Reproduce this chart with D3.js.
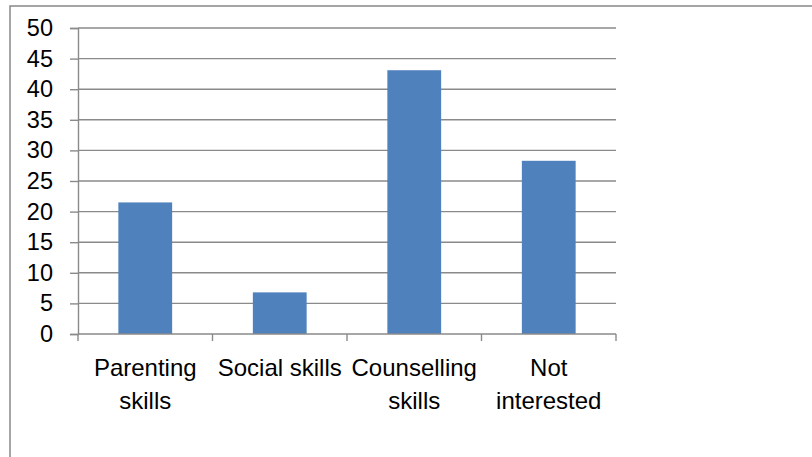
<!DOCTYPE html>
<html>
<head>
<meta charset="utf-8">
<script src="https://cdn.jsdelivr.net/npm/d3@7"></script>
<style>
  html, body { margin: 0; padding: 0; background: #fff; }
  svg { display: block; }
  text { font-family: "Liberation Sans", Arial, sans-serif; fill: #000; }
</style>
</head>
<body>
<svg id="chart" width="812" height="457"></svg>
<script>
const categories = [["Parenting", "skills"], ["Social skills"], ["Counselling", "skills"], ["Not", "interested"]];
const values = [21.5, 6.8, 43.1, 28.3];
const yTicks = [0, 5, 10, 15, 20, 25, 30, 35, 40, 45, 50];

const svg = d3.select("#chart");
const W = 812, H = 457;
const margin = { left: 78, right: 196, top: 28, bottom: 123 };

// outer chart border
svg.append("rect")
  .attr("x", 10).attr("y", 6)
  .attr("width", 820).attr("height", 470)
  .attr("fill", "none").attr("stroke", "#888").attr("stroke-width", 1.5);

const keys = categories.map((c, i) => i);
const x = d3.scaleBand().domain(keys)
  .range([margin.left, W - margin.right])
  .paddingInner(0.6).paddingOuter(0.3);
const y = d3.scaleLinear().domain([0, 50]).range([H - margin.bottom, margin.top]);

const gridColor = "#8a8a8a";

// gridlines
svg.append("g").selectAll("line").data(yTicks.filter(d => d > 0)).join("line")
  .attr("x1", margin.left).attr("x2", W - margin.right)
  .attr("y1", d => y(d)).attr("y2", d => y(d))
  .attr("stroke", gridColor).attr("stroke-width", 1.4);

// bars
svg.append("g").selectAll("rect").data(values).join("rect")
  .attr("x", (d, i) => x(i))
  .attr("width", x.bandwidth())
  .attr("y", d => y(d))
  .attr("height", d => y(0) - y(d))
  .attr("fill", "#4F81BD");

// y axis
const yAxis = d3.axisLeft(y).tickValues(yTicks).tickSize(8).tickPadding(17).tickFormat(d3.format("d"));
const gy = svg.append("g").attr("transform", `translate(${margin.left},0)`).call(yAxis);
gy.select(".domain").attr("stroke", gridColor).attr("stroke-width", 1.4);
gy.selectAll(".tick line").attr("stroke", gridColor).attr("stroke-width", 1.4);
gy.selectAll(".tick text").attr("font-size", 23.5).attr("font-family", "Liberation Sans, Arial, sans-serif").attr("fill", "#000");

// x axis
const gx = svg.append("g");
gx.append("line")
  .attr("x1", margin.left).attr("x2", W - margin.right)
  .attr("y1", y(0)).attr("y2", y(0))
  .attr("stroke", gridColor).attr("stroke-width", 1.4);
const step = (W - margin.right - margin.left) / categories.length;
gx.selectAll("line.tk").data(d3.range(categories.length + 1)).join("line")
  .attr("class", "tk")
  .attr("x1", i => margin.left + i * step).attr("x2", i => margin.left + i * step)
  .attr("y1", y(0)).attr("y2", y(0) + 7)
  .attr("stroke", gridColor).attr("stroke-width", 1.4);

const labels = svg.append("g").selectAll("text").data(categories).join("text")
  .attr("text-anchor", "middle")
  .attr("font-size", 24)
  .attr("x", (d, i) => x(i) + x.bandwidth() / 2)
  .attr("y", 376);
labels.selectAll("tspan").data(d => d).join("tspan")
  .attr("x", function() { return d3.select(this.parentNode).attr("x"); })
  .attr("dy", (d, j) => j === 0 ? 0 : 32.5)
  .text(d => d);
</script>
</body>
</html>
